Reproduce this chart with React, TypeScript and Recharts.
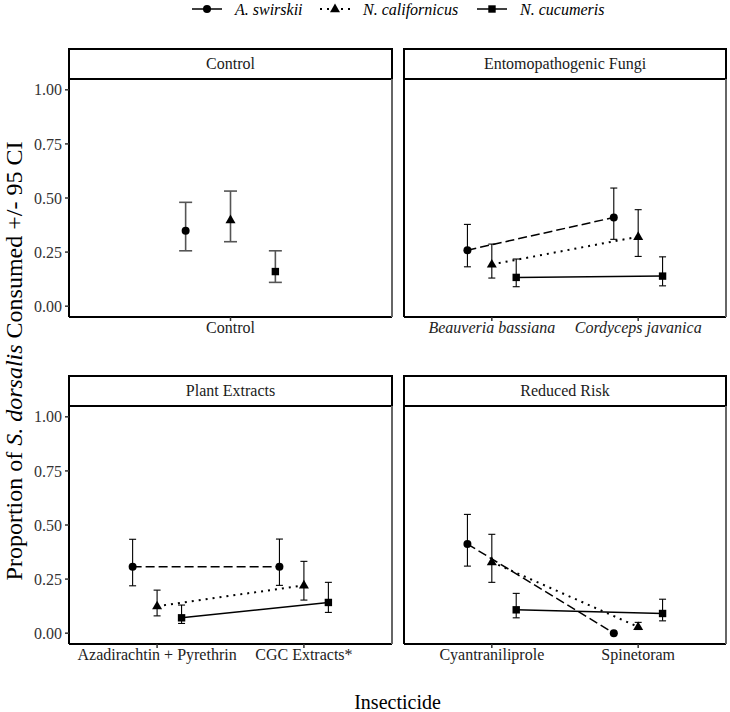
import React from 'react';
import { ComposedChart, Line, XAxis, YAxis, ErrorBar } from 'recharts';

const FONT = '"Liberation Serif", "Times New Roman", Times, serif';

// Series (species) — order: A. swirskii, N. californicus, N. cucumeris
const speciesNames = ['A. swirskii', 'N. californicus', 'N. cucumeris'];
const yTicks = [0, 0.25, 0.5, 0.75, 1];

// Control panel
const controlCategories = ['Control'];
const controlMean = [[0.349], [0.398], [0.16]];
const controlLower = [[0.256], [0.298], [0.11]];
const controlUpper = [[0.48], [0.532], [0.256]];

// Entomopathogenic Fungi panel
const fungiCategories = ['Beauveria bassiana', 'Cordyceps javanica'];
const fungiMean = [[0.259, 0.41], [0.193, 0.321], [0.133, 0.139]];
const fungiLower = [[0.182, 0.309], [0.13, 0.23], [0.09, 0.094]];
const fungiUpper = [[0.378, 0.546], [0.287, 0.446], [0.218, 0.228]];

// Plant Extracts panel
const plantCategories = ['Azadirachtin + Pyrethrin', 'CGC Extracts*'];
const plantMean = [[0.307, 0.307], [0.125, 0.221], [0.071, 0.142]];
const plantLower = [[0.219, 0.221], [0.08, 0.153], [0.045, 0.096]];
const plantUpper = [[0.434, 0.435], [0.199, 0.332], [0.13, 0.235]];

// Reduced Risk panel
const reducedCategories = ['Cyantraniliprole', 'Spinetoram'];
const reducedMean = [[0.412, 0.0], [0.329, 0.029], [0.108, 0.091]];
const reducedLower = [[0.31, 0.0], [0.235, 0.017], [0.071, 0.057]];
const reducedUpper = [[0.549, 0.0], [0.457, 0.05], [0.184, 0.157]];

const dashes = ['9 4', '2 5', undefined];
const shapes = ['circle', 'triangle', 'square'];
const DODGE = 1 / 6;

function Marker({ shape, cx, cy }: { shape: string; cx: number; cy: number }) {
  if (shape === 'circle') return <circle cx={cx} cy={cy} r={4} fill="#000" />;
  if (shape === 'triangle')
    return <polygon points={`${cx},${cy - 5.5} ${cx - 5},${cy + 3.2} ${cx + 5},${cy + 3.2}`} fill="#000" />;
  return <rect x={cx - 3.7} y={cy - 3.7} width={7.4} height={7.4} fill="#000" />;
}

function makeDot(shape: string) {
  return (props: any) => {
    const { cx, cy, index } = props;
    if (cx == null || cy == null) return <g key={`d-${index}`} />;
    return (
      <g key={`d-${shape}-${index}`}>
        <Marker shape={shape} cx={cx} cy={cy} />
      </g>
    );
  };
}

type PanelProps = {
  title: string;
  categories: string[];
  mean: number[][];
  lower: number[][];
  upper: number[][];
  plotLeft: number;
  plotTop: number;
  plotWidth: number;
  showY: boolean;
  italic: boolean;
  capHalf: number;
  errStroke: string;
  errWidth: number;
};

const PLOT_H = 238;
const XAXIS_H = 34;
const STRIP_H = 31;

function Panel(p: PanelProps) {
  const n = p.categories.length;
  const yAxisW = p.showY ? p.plotLeft : 0;
  const chartLeft = p.showY ? 0 : p.plotLeft - 2;
  const marginLeft = p.showY ? 0 : 2;
  const width = marginLeft + yAxisW + p.plotWidth + 2;
  const height = 2 + PLOT_H + XAXIS_H;

  const seriesData = speciesNames.map((_, s) =>
    p.categories.map((_, i) => ({
      x: i + 1 + (s - 1) * DODGE,
      y: p.mean[s][i],
      err: [p.mean[s][i] - p.lower[s][i], p.upper[s][i] - p.mean[s][i]],
    }))
  );

  const renderTick = (props: any) => {
    const { x, y, payload } = props;
    const label = p.categories[Math.round(payload.value) - 1] ?? '';
    return (
      <text
        x={x}
        y={y}
        dy="0.71em"
        textAnchor="middle"
        fontSize={16}
        fontFamily={FONT}
        fontStyle={p.italic ? 'italic' : 'normal'}
        fill="#222"
      >
        {label}
      </text>
    );
  };

  return (
    <>
      <div
        style={{
          position: 'absolute',
          left: p.plotLeft - 1,
          top: p.plotTop - STRIP_H,
          width: p.plotWidth + 2,
          height: STRIP_H + 1,
          boxSizing: 'border-box',
          border: '2px solid #000',
          background: '#fff',
          display: 'flex',
          alignItems: 'center',
          justifyContent: 'center',
          fontFamily: FONT,
          fontSize: 16,
          color: '#1a1a1a',
        }}
      >
        {p.title}
      </div>
      <div style={{ position: 'absolute', left: chartLeft, top: p.plotTop - 2 }}>
        <ComposedChart
          width={width}
          height={height}
          margin={{ top: 2, right: 2, left: marginLeft, bottom: 0 }}
        >
          <XAxis
            type="number"
            dataKey="x"
            domain={[0.4, n + 0.6]}
            ticks={p.categories.map((_, i) => i + 1)}
            allowDataOverflow
            interval={0}
            height={XAXIS_H}
            tickSize={4}
            tickMargin={1}
            axisLine={{ stroke: '#000', strokeWidth: 2 }}
            tickLine={{ stroke: '#333', strokeWidth: 1.5 }}
            tick={renderTick}
          />
          <YAxis
            type="number"
            domain={[-0.05, 1.05]}
            ticks={yTicks}
            allowDataOverflow
            hide={!p.showY}
            width={yAxisW || 1}
            tickSize={4}
            tickMargin={3}
            axisLine={{ stroke: '#000', strokeWidth: 2 }}
            tickLine={{ stroke: '#333', strokeWidth: 1.5 }}
            tick={{ fontSize: 16, fontFamily: FONT, fill: '#333' }}
            tickFormatter={(v: number) => v.toFixed(2)}
          />
          {seriesData.map((d, s) => (
            <Line
              key={speciesNames[s]}
              data={d}
              dataKey="y"
              name={speciesNames[s]}
              stroke="#000"
              strokeWidth={s === 1 ? 2 : 1.5}
              strokeDasharray={dashes[s]}
              dot={makeDot(shapes[s])}
              activeDot={false}
              isAnimationActive={false}
              legendType="none"
            >
              <ErrorBar
                dataKey="err"
                direction="y"
                width={p.capHalf}
                stroke={p.errStroke}
                strokeWidth={p.errWidth}
                isAnimationActive={false}
              />
            </Line>
          ))}
        </ComposedChart>
      </div>
      <div
        style={{
          position: 'absolute',
          left: p.plotLeft + p.plotWidth - 0.75,
          top: p.plotTop,
          width: 1.5,
          height: PLOT_H,
          background: '#666',
        }}
      />
      {!p.showY && (
        <div
          style={{
            position: 'absolute',
            left: p.plotLeft - 1,
            top: p.plotTop,
            width: 2,
            height: PLOT_H,
            background: '#000',
          }}
        />
      )}
    </>
  );
}

function LegendKey({ cx, s }: { cx: number; s: number }) {
  return (
    <g>
      <line
        x1={cx - 15}
        x2={cx + 15}
        y1={9}
        y2={9}
        stroke="#000"
        strokeWidth={s === 1 ? 2 : 1.5}
        strokeDasharray={s === 1 ? '2 5' : undefined}
      />
      <Marker shape={shapes[s]} cx={cx} cy={9} />
    </g>
  );
}

export default function App() {
  const legendCenters = [207, 335, 492];
  const legendTextX = [235, 363, 520];
  return (
    <div
      style={{
        position: 'absolute',
        left: 0,
        top: 0,
        width: 730,
        height: 712,
        background: '#fff',
        overflow: 'hidden',
        fontFamily: FONT,
      }}
    >
      <svg width={730} height={712} style={{ position: 'absolute', left: 0, top: 0 }}>
        {speciesNames.map((name, s) => (
          <g key={name}>
            <LegendKey cx={legendCenters[s]} s={s} />
            <text x={legendTextX[s]} y={14.5} fontSize={16} fontStyle="italic" fontFamily={FONT} fill="#000">
              {name}
            </text>
          </g>
        ))}
        <text
          transform="rotate(-90)"
          x={-361}
          y={22}
          textAnchor="middle"
          fontSize={24}
          fontFamily={FONT}
          fill="#000"
        >
          Proportion of <tspan fontStyle="italic">S. dorsalis</tspan> Consumed +/- 95 CI
        </text>
        <text x={397.5} y={709} textAnchor="middle" fontSize={20} fontFamily={FONT} fill="#000">
          Insecticide
        </text>
      </svg>
      <Panel
        title="Control"
        categories={controlCategories}
        mean={controlMean}
        lower={controlLower}
        upper={controlUpper}
        plotLeft={69}
        plotTop={79}
        plotWidth={323}
        showY
        italic={false}
        capHalf={6.5}
        errStroke="#555"
        errWidth={1.6}
      />
      <Panel
        title="Entomopathogenic Fungi"
        categories={fungiCategories}
        mean={fungiMean}
        lower={fungiLower}
        upper={fungiUpper}
        plotLeft={404}
        plotTop={79}
        plotWidth={322}
        showY={false}
        italic
        capHalf={3.5}
        errStroke="#000"
        errWidth={1.1}
      />
      <Panel
        title="Plant Extracts"
        categories={plantCategories}
        mean={plantMean}
        lower={plantLower}
        upper={plantUpper}
        plotLeft={69}
        plotTop={406}
        plotWidth={323}
        showY
        italic={false}
        capHalf={3.5}
        errStroke="#000"
        errWidth={1.1}
      />
      <Panel
        title="Reduced Risk"
        categories={reducedCategories}
        mean={reducedMean}
        lower={reducedLower}
        upper={reducedUpper}
        plotLeft={404}
        plotTop={406}
        plotWidth={322}
        showY={false}
        italic={false}
        capHalf={3.5}
        errStroke="#000"
        errWidth={1.1}
      />
    </div>
  );
}
